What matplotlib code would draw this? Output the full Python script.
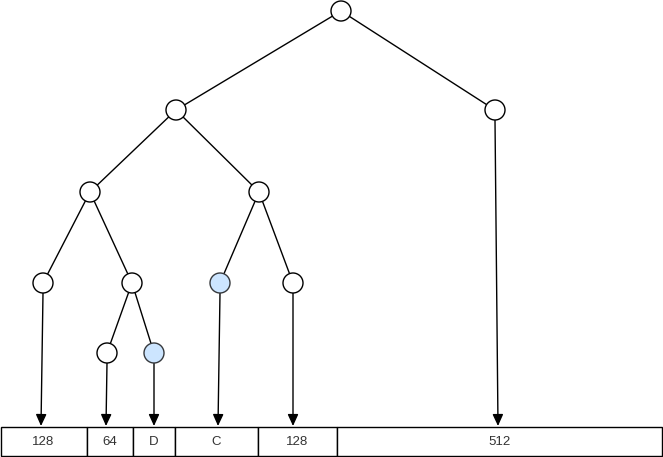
import matplotlib
matplotlib.use("Agg")
import matplotlib.pyplot as plt
from matplotlib.patches import Circle, Rectangle, FancyArrowPatch
import numpy as np

# Box labels along the bottom
box_labels = ["128", "64", "D", "C", "128", "512"]
box_edges = [0.5, 86.5, 132.5, 174.5, 257.5, 336.5, 662]

# Tree nodes: name -> (x, y)
nodes = {
    "root": (341, 11),
    "L": (176, 110), "R": (495, 110),
    "LL": (90, 192), "LR": (259, 192),
    "LLL": (43, 283), "LLR": (132, 283), "LRL": (220, 283), "LRR": (293, 283),
    "LLRL": (107, 353), "LLRR": (154, 353),
}
edges = [("root", "L"), ("root", "R"), ("L", "LL"), ("L", "LR"),
         ("LL", "LLL"), ("LL", "LLR"), ("LR", "LRL"), ("LR", "LRR"),
         ("LLR", "LLRL"), ("LLR", "LLRR")]
highlighted = ["LRL", "LLRR"]
# leaf -> x of arrow end on box top
pointers = {"LLL": 41, "LLRL": 106, "LLRR": 154, "LRL": 218, "LRR": 293, "R": 498}

R = 10
box_top, box_bot = 426.5, 456

fig = plt.figure(figsize=(6.63, 4.57), dpi=100)
ax = fig.add_axes([0, 0, 1, 1])
ax.set_xlim(0, 663)
ax.set_ylim(457, 0)
ax.axis("off")

for a, b in edges:
    x1, y1 = nodes[a]
    x2, y2 = nodes[b]
    d = np.hypot(x2 - x1, y2 - y1)
    ux, uy = (x2 - x1) / d, (y2 - y1) / d
    ax.plot([x1 + ux * R, x2 - ux * R], [y1 + uy * R, y2 - uy * R],
            color="black", lw=1.0, solid_capstyle="butt")

for name, tx in pointers.items():
    x, y = nodes[name]
    arr = FancyArrowPatch((x, y + R), (tx, box_top - 0.5),
                          arrowstyle="-|>,head_length=7,head_width=3.2",
                          mutation_scale=1.0, color="black", lw=1.0,
                          shrinkA=0, shrinkB=0)
    ax.add_patch(arr)

for name, (x, y) in nodes.items():
    fc = "#cce5ff" if name in highlighted else "white"
    ec = "#36393d" if name in highlighted else "black"
    ax.add_patch(Circle((x, y), R, facecolor=fc, edgecolor=ec, lw=1.0, zorder=3))

for i, lab in enumerate(box_labels):
    x0, x1 = box_edges[i], box_edges[i + 1]
    ax.add_patch(Rectangle((x0, box_top), x1 - x0, box_bot - box_top,
                           facecolor="white", edgecolor="black", lw=1.0, zorder=2))
    ax.text((x0 + x1) / 2, (box_top + box_bot) / 2 + 0.5, lab, ha="center", va="center",
            fontsize=9.5, family=["Liberation Sans", "DejaVu Sans"], color="#333333", zorder=4)

fig.savefig("out.png", dpi=100)
